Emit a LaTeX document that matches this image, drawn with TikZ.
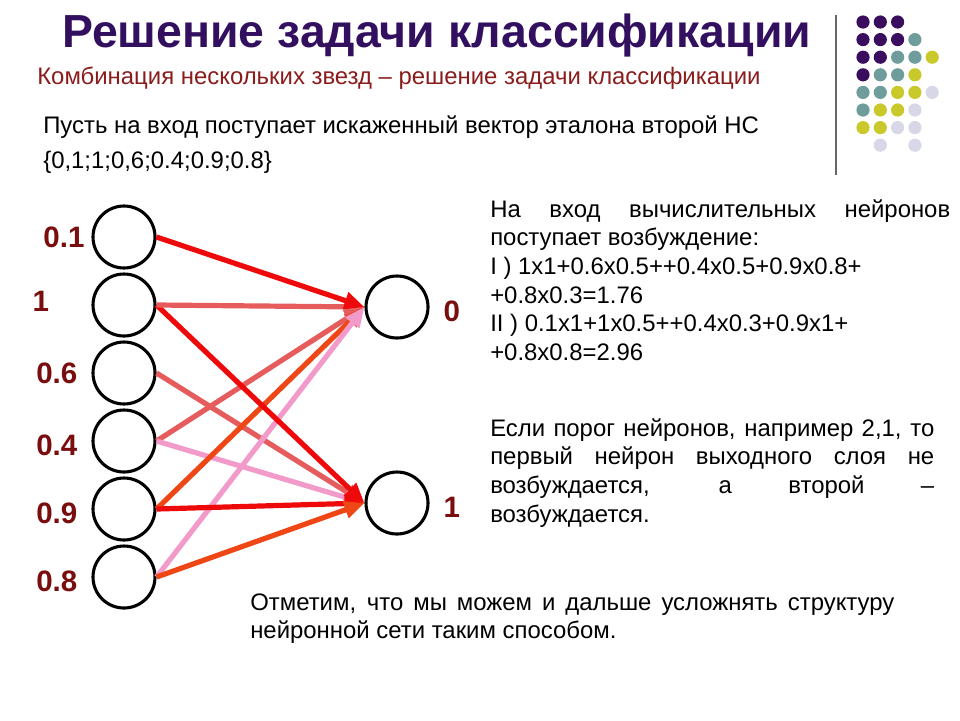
\documentclass[tikz,border=0pt]{standalone}
\usepackage{fontspec}
\setmainfont{Liberation Sans}
\usetikzlibrary{arrows.meta}
\setlength{\parindent}{0pt}

\definecolor{titlepurple}{HTML}{33105F}
\definecolor{subred}{HTML}{8A1C1C}
\definecolor{labelred}{HTML}{7A0E0E}
\definecolor{wred}{HTML}{EE0A0A}
\definecolor{wsalmon}{HTML}{E65C5C}
\definecolor{wpink}{HTML}{F29BCB}
\definecolor{worange}{HTML}{EF4616}
\definecolor{dotpurple}{HTML}{3B0D5F}
\definecolor{dotteal}{HTML}{6F9D9B}
\definecolor{dotyellow}{HTML}{C9C92B}
\definecolor{dotlilac}{HTML}{D7D7E7}

\tikzset{
	neuron/.style={draw, circle, line width=2.2pt, minimum size=1.55cm, inner sep=0pt},
	weight/.style={line width=3.7pt, -{Triangle[length=0.5cm,width=0.42cm]}},
	value/.style={text=labelred, font=\fontsize{21}{24}\selectfont\bfseries},
	plain/.style={inner sep=0pt, font=\fontsize{17}{20.4}\selectfont},
}

\begin{document}
\begin{tikzpicture}[node distance=1.7cm]
	\useasboundingbox (0,0) rectangle (24,-18);

	% Headings
	\node (title)	[anchor=west, inner sep=0pt, text=titlepurple, font=\fontsize{33}{37}\selectfont\bfseries]
								at (1.55,-0.875)	{Решение задачи классификации};
	\node (sub)		[plain, anchor=west, text=subred]	at (0.925,-1.95)
															{Комбинация нескольких звезд – решение задачи классификации};
	\node (input)	[plain, anchor=west]	at (1.075,-3.175)
															{Пусть на вход поступает искаженный вектор эталона второй НС};
	\node (vector)	[plain, anchor=west]	at (1.075,-4.05)	{\{0,1;1;0,6;0.4;0.9;0.8\}};

	% Input layer, output layer and their values
	\node (in1)		[neuron]	at (3.1,-5.925)	{};
	\node (in2)		[neuron, below of=in1]		{};
	\node (in3)		[neuron, below of=in2]		{};
	\node (in4)		[neuron, below of=in3]		{};
	\node (in5)		[neuron, below of=in4]		{};
	\node (in6)		[neuron, below of=in5]		{};
	\node (out0)	[neuron, right of=in2, xshift=5.125cm, yshift=-0.05cm]	{};
	\node (out1)	[neuron, below of=out0, yshift=-3.2cm]	{};

	\node (v1)		[value, left of=in1, xshift=0.2cm]					{0.1};
	\node (v2)		[value, left of=in2, xshift=-0.38cm, yshift=0.1cm]	{1};
	\node (v3)		[value, left of=in3, xshift=0.02cm]					{0.6};
	\node (v4)		[value, left of=in4, xshift=0.02cm, yshift=-0.12cm]	{0.4};
	\node (v5)		[value, left of=in5, xshift=0.02cm, yshift=-0.1cm]	{0.9};
	\node (v6)		[value, left of=in6, xshift=0.02cm, yshift=-0.1cm]	{0.8};
	\node (r0)		[value, right of=out0, xshift=-0.33cm, yshift=-0.12cm]	{0};
	\node (r1)		[value, right of=out1, xshift=-0.33cm, yshift=-0.1cm]	{1};

	% Weighted connections
	\draw[weight, wsalmon]	(in3.east) -- (out1.west);
	\draw[weight, wsalmon]	(in4.east) -- (out0.west);
	\draw[weight, wpink]	(in4.east) -- (out1.west);
	\draw[weight, worange]	(in5.east) -- (out0.west);
	\draw[weight, wpink]	(in6.east) -- (out0.west);
	\draw[weight, wred]		(in2.east) -- (out1.west);
	\draw[weight, wsalmon]	(in2.east) -- (out0.west);
	\draw[weight, wred]		(in1.east) -- (out0.west);
	\draw[weight, wred]		(in5.east) -- (out1.west);
	\draw[weight, worange]	(in6.east) -- (out1.west);

	% Explanations
	\node (excite)	[plain, anchor=north west, text width=11.5cm, align=justify] at (12.25,-4.98)
		{На вход вычислительных нейронов\linebreak поступает возбуждение:\\
		I ) 1x1+0.6x0.5++0.4x0.5+0.9x0.8+\\
		+0.8x0.3=1.76\\
		II ) 0.1x1+1x0.5++0.4x0.3+0.9x1+\\
		+0.8x0.8=2.96};
	\node (thresh)	[plain, anchor=north west, text width=11.1cm, align=justify] at (12.25,-10.45)
		{Если порог нейронов, например 2,1, то\linebreak первый нейрон выходного слоя не\linebreak
		возбуждается, а второй –\linebreak возбуждается.};
	\node (remark)	[plain, anchor=north west, text width=16.1cm, align=justify] at (6.25,-14.83)
		{Отметим, что мы можем и дальше усложнять структуру\linebreak нейронной сети таким способом.};

	% Logo
	\draw[line width=1.5pt, black!60] (20.9,-0.375) -- (20.9,-4.375);
	\foreach \r/\c/\dotcol in {1/1/dotpurple, 1/2/dotpurple, 1/3/dotpurple,
			2/1/dotpurple, 2/2/dotpurple, 2/3/dotpurple, 2/4/dotteal,
			3/1/dotpurple, 3/2/dotpurple, 3/3/dotteal, 3/4/dotteal, 3/5/dotyellow,
			4/1/dotpurple, 4/2/dotteal, 4/3/dotteal, 4/4/dotyellow,
			5/1/dotteal, 5/2/dotteal, 5/3/dotyellow, 5/4/dotyellow, 5/5/dotlilac,
			6/1/dotteal, 6/2/dotyellow, 6/3/dotyellow, 6/4/dotlilac,
			7/1/dotyellow, 7/2/dotyellow, 7/3/dotlilac, 7/4/dotlilac,
			8/2/dotlilac, 8/4/dotlilac}
		\fill[\dotcol] ({21.575+0.4325*(\c-1)},{-0.55-0.44*(\r-1)}) circle (0.165);
\end{tikzpicture}
\end{document}
